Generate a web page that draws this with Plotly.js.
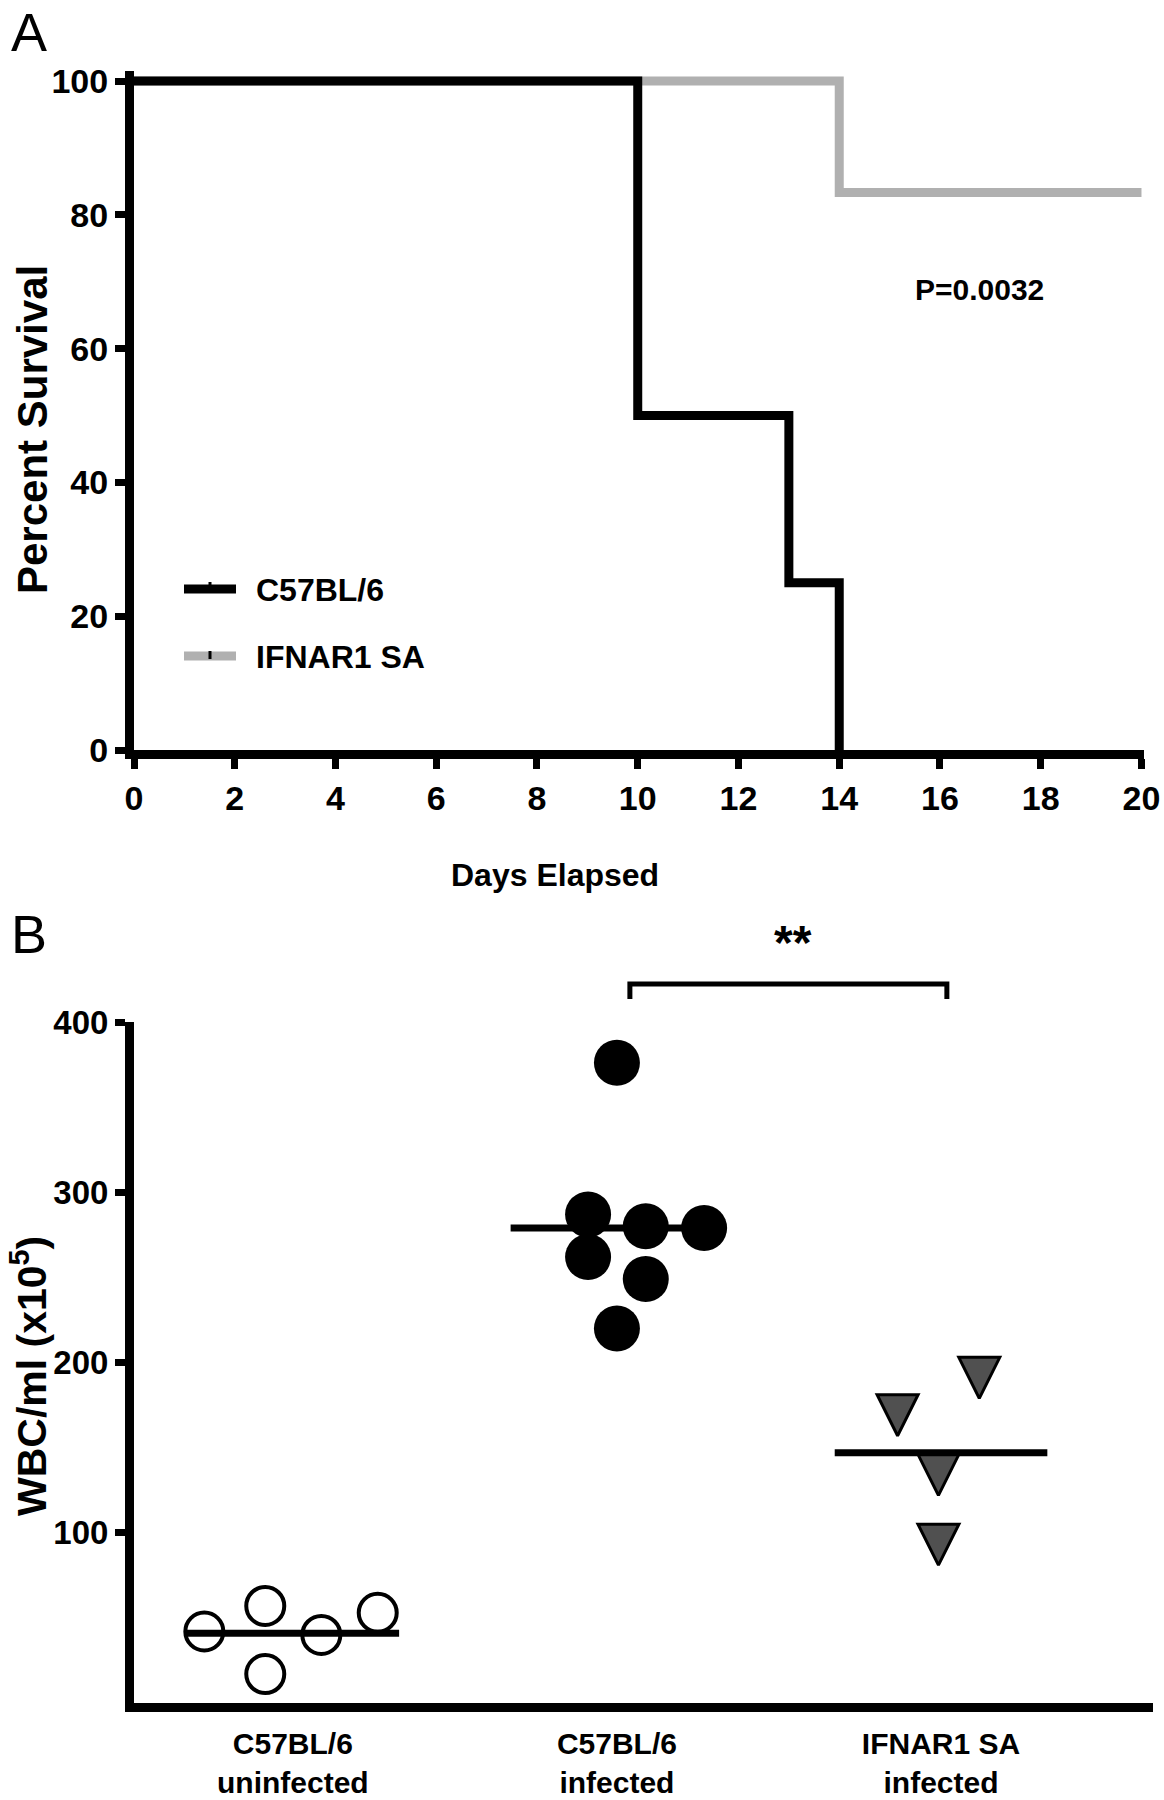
<!DOCTYPE html>
<html><head><meta charset="utf-8">
<script src="https://cdn.plot.ly/plotly-3.0.1.min.js"></script>
<style>html,body{margin:0;padding:0;background:#fff}</style>
</head><body><div id="chart" style="width:1164px;height:1800px"></div>
<script>
// ---------- Panel A: survival ----------
const c57Days = [0, 10, 13, 14];
const c57Survival = [100, 50, 25, 0];
const ifnarDays = [0, 14, 20];
const ifnarSurvival = [100, 83.33, 83.33];
const dayTicks = [0, 2, 4, 6, 8, 10, 12, 14, 16, 18, 20];
const survivalTicks = [0, 20, 40, 60, 80, 100];
const seriesNames = ['C57BL/6', 'IFNAR1 SA'];
const pValueText = 'P=0.0032';

// ---------- Panel B: WBC ----------
const groupLabels = ['C57BL/6<br>uninfected', 'C57BL/6<br>infected', 'IFNAR1 SA<br>infected'];
const uninfectedJitter = [-0.273, -0.085, -0.085, 0.088, 0.262];
const uninfectedWBC = [42, 57, 17, 40, 53];
const infectedJitter = [0, -0.089, 0.089, 0.269, -0.089, 0.089, 0];
const infectedWBC = [376, 287, 280, 279, 262, 249, 220];
const ifnarJitter = [-0.134, 0.118, -0.008, -0.008];
const ifnarWBC = [169, 191, 134, 93];
const groupMeans = [41, 279, 147];
const wbcTicks = [100, 200, 300, 400];
const sigText = '**';

const FONT = 'Liberation Sans, Arial, Helvetica, sans-serif';
const bold = (size) => ({family: FONT, size: size, color: '#000', weight: 'bold'});
const GRAY = '#b0b0b0';

const groupIdx = groupLabels.map((_, i) => i);
const traces = [];

traces.push({x: ifnarDays, y: ifnarSurvival, xaxis: 'x', yaxis: 'y', mode: 'lines',
  line: {color: GRAY, width: 9, shape: 'hv'}, name: seriesNames[1], showlegend: false});
traces.push({x: c57Days, y: c57Survival, xaxis: 'x', yaxis: 'y', mode: 'lines',
  line: {color: '#000', width: 9, shape: 'hv'}, name: seriesNames[0], showlegend: false});

traces.push({x: uninfectedJitter.map(o => groupIdx[0] + o), y: uninfectedWBC, xaxis: 'x2', yaxis: 'y2',
  mode: 'markers', cliponaxis: false, showlegend: false,
  marker: {symbol: 'circle', size: 38, color: '#fff', line: {color: '#000', width: 4}}});
traces.push({x: infectedJitter.map(o => groupIdx[1] + o), y: infectedWBC, xaxis: 'x2', yaxis: 'y2',
  mode: 'markers', cliponaxis: false, showlegend: false,
  marker: {symbol: 'circle', size: 46, color: '#000', line: {width: 0}}});
traces.push({x: ifnarJitter.map(o => groupIdx[2] + o), y: ifnarWBC, xaxis: 'x2', yaxis: 'y2',
  mode: 'markers', cliponaxis: false, showlegend: false,
  marker: {symbol: 'arrow-down', size: 41, standoff: 20.5, color: '#505050', line: {color: '#000', width: 3}}});
groupMeans.forEach((m, i) => {
  traces.push({x: [groupIdx[i] - 0.328, groupIdx[i] + 0.328], y: [m, m], xaxis: 'x2', yaxis: 'y2',
    mode: 'lines', line: {color: '#000', width: 7}, showlegend: false});
});

const H = 1800, W = 1164;
const py = (px) => (H - px) / H;
const pxp = (px) => px / W;

const axisCommon = {showgrid: false, zeroline: false, showline: true, linecolor: '#000', linewidth: 9,
  ticks: 'outside', ticklen: 10, tickwidth: 7, tickcolor: '#000', fixedrange: true};

const layout = {
  width: W, height: H, margin: {l: 0, r: 0, t: 0, b: 0},
  paper_bgcolor: '#fff', plot_bgcolor: 'rgba(0,0,0,0)', showlegend: false,
  font: {family: FONT},
  xaxis: Object.assign({}, axisCommon, {domain: [pxp(134), pxp(1144)], range: [0, 20.05], anchor: 'y',
    tickmode: 'array', tickvals: dayTicks, tickfont: bold(34)}),
  yaxis: Object.assign({}, axisCommon, {domain: [py(750), py(71)], range: [0, 101.5], anchor: 'x',
    tickmode: 'array', tickvals: survivalTicks, tickfont: bold(34)}),
  xaxis2: Object.assign({}, axisCommon, {domain: [pxp(134), pxp(1153)], range: [-0.49, 2.654], anchor: 'y2',
    tickmode: 'array', tickvals: groupIdx, ticktext: groupLabels, ticks: '', ticklabelstandoff: 6,
    tickfont: bold(30)}),
  yaxis2: Object.assign({}, axisCommon, {domain: [py(1703), py(1022)], range: [0, 400], anchor: 'x2',
    tickmode: 'array', tickvals: wbcTicks, tickfont: bold(33)}),
  annotations: [
    {text: 'A', xref: 'paper', yref: 'paper', x: pxp(29), y: 1, showarrow: false,
      font: {family: FONT, size: 54, color: '#000'}, xanchor: 'center', yanchor: 'top'},
    {text: 'B', xref: 'paper', yref: 'paper', x: pxp(29), y: py(934), showarrow: false,
      font: {family: FONT, size: 54, color: '#000'}, xanchor: 'center', yanchor: 'middle'},
    {text: 'Percent Survival', xref: 'paper', yref: 'paper', x: pxp(32), y: py(430), textangle: -90,
      showarrow: false, font: bold(42), xanchor: 'center', yanchor: 'middle'},
    {text: 'Days Elapsed', xref: 'paper', yref: 'paper', x: pxp(555), y: py(875),
      showarrow: false, font: bold(32), xanchor: 'center', yanchor: 'middle'},
    {text: pValueText, xref: 'paper', yref: 'paper', x: pxp(979), y: py(290),
      showarrow: false, font: bold(30), xanchor: 'center', yanchor: 'middle'},
    {text: seriesNames[0], xref: 'paper', yref: 'paper', x: pxp(254), y: py(590),
      showarrow: false, font: bold(32), xanchor: 'left', yanchor: 'middle'},
    {text: seriesNames[1], xref: 'paper', yref: 'paper', x: pxp(254), y: py(657),
      showarrow: false, font: bold(32), xanchor: 'left', yanchor: 'middle'},
    {text: 'WBC/ml (x10<sup>5</sup>)', xref: 'paper', yref: 'paper', x: pxp(29), y: py(1376), textangle: -90,
      showarrow: false, font: bold(41), xanchor: 'center', yanchor: 'middle'},
    {text: sigText, xref: 'x2', yref: 'paper', x: 1.543, y: py(943),
      showarrow: false, font: bold(48), xanchor: 'center', yanchor: 'middle'}
  ],
  shapes: [
    // legend samples
    {type: 'line', xref: 'paper', yref: 'paper', x0: pxp(184), x1: pxp(236), y0: py(589), y1: py(589),
      line: {color: '#000', width: 9}},
    {type: 'line', xref: 'paper', yref: 'paper', x0: pxp(210), x1: pxp(210), y0: py(582), y1: py(589),
      line: {color: '#000', width: 3}},
    {type: 'line', xref: 'paper', yref: 'paper', x0: pxp(184), x1: pxp(236), y0: py(656), y1: py(656),
      line: {color: GRAY, width: 9}},
    {type: 'line', xref: 'paper', yref: 'paper', x0: pxp(210), x1: pxp(210), y0: py(651), y1: py(659),
      line: {color: '#000', width: 3}},
    // significance bracket
    {type: 'path', xref: 'x2', yref: 'paper',
      path: 'M1.04,' + py(999) + ' L1.04,' + py(984) + ' L2.018,' + py(984) + ' L2.018,' + py(999),
      line: {color: '#000', width: 5}}
  ]
};

Plotly.newPlot('chart', traces, layout, {displayModeBar: false, staticPlot: true});
</script></body></html>
